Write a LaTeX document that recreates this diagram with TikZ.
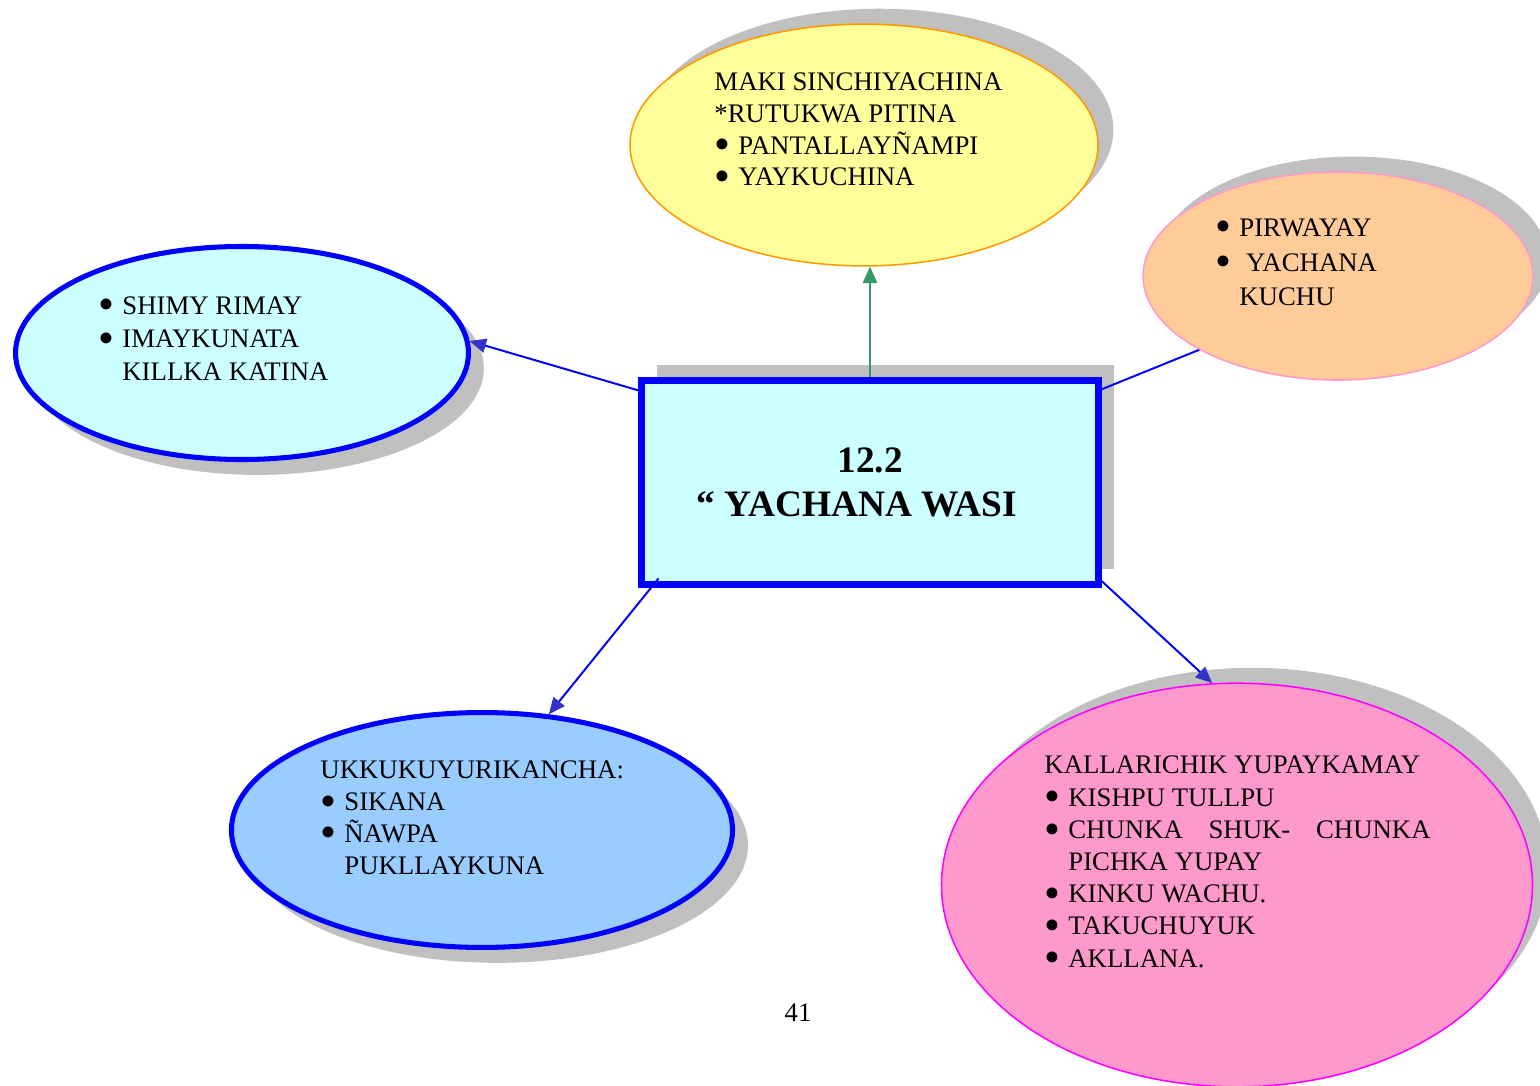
\documentclass[tikz,border=0pt]{standalone}
\usepackage{fontspec}
\setmainfont{Liberation Serif}
\usetikzlibrary{shapes.geometric,shadows,arrows.meta}

\definecolor{shadowgray}{HTML}{C0C0C0}
\definecolor{yelfill}{HTML}{FFFF99}
\definecolor{yeldraw}{HTML}{FF9900}
\definecolor{orgfill}{HTML}{FFCC99}
\definecolor{pinkdraw}{HTML}{FF99CC}
\definecolor{cyanfill}{HTML}{CCFFFF}
\definecolor{skyfill}{HTML}{99CCFF}
\definecolor{rosefill}{HTML}{FF99CC}
\definecolor{rosedraw}{HTML}{FF00FF}
\definecolor{linkblue}{HTML}{0000FF}
\definecolor{tipblue}{HTML}{3333CC}
\definecolor{linkgreen}{HTML}{339966}

\newcommand\itm{\makebox[10.9pt][l]{\smash{\raisebox{-2.6pt}{\scalebox{1.7}{\textbullet}}}}}
\newcommand\ind{\hspace*{10.9pt}}

\begin{document}
\begin{tikzpicture}[x=0.016cm, y=-0.016cm,
	bubble/.style={ellipse, inner sep=0pt},
	lift ne/.style={drop shadow={shadow xshift=7pt, shadow yshift=7pt, fill=shadowgray, opacity=1}},
	lift se/.style={drop shadow={shadow xshift=7pt, shadow yshift=-7pt, fill=shadowgray, opacity=1}},
	note/.style={anchor=base west, inner sep=0pt, align=left, font=\fontsize{12.2}{14.5}\selectfont},
	link/.style={draw=linkblue, line width=0.9pt, -{Triangle[length=7.5pt, width=6.5pt, color=tipblue]}}]

\path[fill=white, use as bounding box] (0,0) rectangle (1540,1086);

% bubbles
\node[bubble, lift ne, fill=yelfill, draw=yeldraw, line width=0.7pt,
	minimum width=7.49cm, minimum height=3.87cm] (maki) at (864,145) {};
\node[bubble, lift ne, fill=orgfill, draw=pinkdraw, line width=0.7pt,
	minimum width=6.24cm, minimum height=3.33cm] (pirway) at (1338,276) {};
\node[bubble, lift se, fill=cyanfill, draw=linkblue, line width=2.3pt,
	minimum width=7.25cm, minimum height=3.41cm] (shimy) at (242,353) {};
\node[bubble, lift se, fill=skyfill, draw=linkblue, line width=2.3pt,
	minimum width=8.02cm, minimum height=3.76cm] (ukku) at (482,830) {};
\node[bubble, lift ne, fill=rosefill, draw=rosedraw, line width=0.7pt,
	minimum width=9.46cm, minimum height=6.46cm] (kallari) at (1237,885) {};

% centre box
\node[rectangle, lift ne, fill=cyanfill, draw=linkblue, line width=3.2pt,
	minimum width=7.31cm, minimum height=3.26cm, align=center,
	font=\fontsize{17}{20}\selectfont\bfseries] (wasi) at (870,482.5)
	{12.2\\“ YACHANA WASI\rule{11.8pt}{0pt}};

% texts (placed at the baseline of their last line)
\node[note] (makitxt) at (714,186) {MAKI SINCHIYACHINA\\*RUTUKWA PITINA\\
	\itm PANTALLAYÑAMPI\\\itm YAYKUCHINA};
\node[note, font=\fontsize{12.2}{15.2}\selectfont] (shimytxt) at (98,381)
	{\itm SHIMY RIMAY\\\itm IMAYKUNATA\\\ind KILLKA KATINA};
\node[note, font=\fontsize{12.2}{15.9}\selectfont] (pirwaytxt) at (1215,306)
	{\itm PIRWAYAY\\\itm\ YACHANA\\\ind KUCHU};
\node[note] (ukkutxt) at (320,874) {UKKUKUYURIKANCHA:\\\itm SIKANA\\
	\itm ÑAWPA\\\ind PUKLLAYKUNA};
\node[note, font=\fontsize{12.2}{14.65}\selectfont] (kallaritxt) at (1044,967)
	{KALLARICHIK YUPAYKAMAY\\\itm KISHPU TULLPU\\
	\itm\makebox[165pt][l]{CHUNKA\hfill SHUK-\hfill CHUNKA}\\\ind PICHKA YUPAY\\
	\itm KINKU WACHU.\\\itm TAKUCHUYUK\\\itm AKLLANA.};

\node[inner sep=0pt, anchor=base, font=\fontsize{12.2}{14.5}\selectfont] (pagenum) at (798,1021) {41};

% links
\draw[link, draw=linkgreen, -{Triangle[length=7.5pt, width=6.5pt, color=linkgreen]}]
	(wasi.north) -- (wasi.north |- maki.south);
\draw[link] ([yshift=-6pt]wasi.north west) -- (shimy.3);
\draw[link, -] ([yshift=-5.5pt]wasi.north east) -- (pirway.208);
\draw[link] ([xshift=9.3pt, yshift=4.3pt]wasi.south west) -- (ukku.60);
\draw[link] ([yshift=3pt]wasi.south east) -- (kallari.97);

\end{tikzpicture}
\end{document}
